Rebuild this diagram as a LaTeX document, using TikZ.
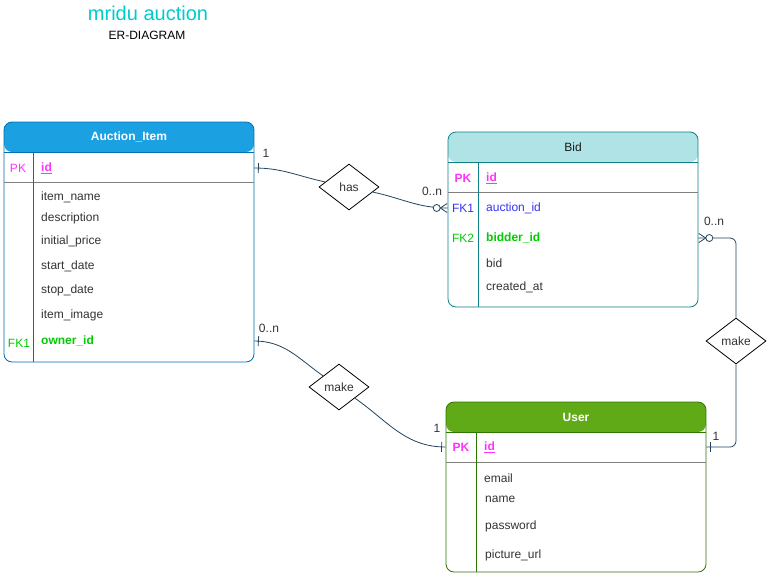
\documentclass[tikz,border=0pt]{standalone}
\usepackage{fontspec}
\setmainfont{Liberation Sans}
\usetikzlibrary{shapes.geometric,decorations.markings}

\definecolor{titlecyan}{HTML}{00CCCC}
\definecolor{itemfill}{HTML}{1BA1E2}
\definecolor{itemline}{HTML}{006EAF}
\definecolor{bidfill}{HTML}{B0E3E6}
\definecolor{bidline}{HTML}{0E8088}
\definecolor{userfill}{HTML}{60A917}
\definecolor{userline}{HTML}{2D7600}
\definecolor{pkcol}{HTML}{FF33FF}
\definecolor{fkgreen}{HTML}{00CC00}
\definecolor{fkblue}{HTML}{3333FF}
\definecolor{edgecol}{HTML}{23445D}
\definecolor{txt}{HTML}{333333}

\tikzset{
  entity/.style args={#1/#2}{draw=#2, fill=white, line width=0.8pt, rounded corners=8pt, inner sep=0pt,
    path picture={\fill[#1] (path picture bounding box.north west) rectangle ([yshift=-30pt]path picture bounding box.north east);
      \draw[#2, line width=0.8pt] ([yshift=-30pt]path picture bounding box.north west) -- ([yshift=-30pt]path picture bounding box.north east);}},
  field/.style={anchor=west, inner sep=0pt, text=txt},
  keycol/.style={inner sep=0pt},
  pkey/.style={anchor=west, inner sep=0pt, text=pkcol, font=\fontsize{12}{14}\selectfont\bfseries},
  relation/.style={diamond, draw=black, fill=white, line width=0.8pt, minimum width=60pt, minimum height=46pt, inner sep=0pt, aspect=1.3, text=txt},
  edge/.style={draw=edgecol, line width=0.8pt},
  oneend/.style={postaction=decorate, decoration={markings, mark=at position -4pt with {\draw[edgecol, line width=0.8pt] (0pt,-5pt) -- (0pt,5pt);}}},
  manyend/.style={postaction=decorate, decoration={markings, mark=at position -0.4pt with {
    \draw[edgecol, line width=0.8pt] (-7pt,0pt) -- (0pt,4.5pt) (-7pt,0pt) -- (0pt,-4.5pt);
    \draw[edgecol, line width=0.8pt, fill=white] (-10.5pt,0pt) circle (3.5pt);}}},
  lbl/.style={inner sep=0pt, text=txt}
}

\begin{document}
\begin{tikzpicture}[x=1pt, y=-1pt, every node/.style={font=\fontsize{12}{14}\selectfont}]
\useasboundingbox (0,0) rectangle (767,573);

\node[text=titlecyan, font=\fontsize{20}{24}\selectfont] (title) at (148,13) {mridu auction};
\node[text=black] (subtitle) at (147,35) {ER-DIAGRAM};

% Auction_Item
\node[entity=itemfill/itemline, minimum width=250pt, minimum height=240pt] (item) at (129,242) {};
\node[text=white, font=\fontsize{12}{14}\selectfont\bfseries] (itemhead) at (129,137) {Auction\_Item};
\draw[gray, line width=0.8pt] (4,182) -- (254,182);
\draw[itemline, line width=0.8pt] (33,152) -- (33,362);
\node[keycol, text=pkcol] (itempk) at (18,168) {PK};
\node[pkey] (itemid) at (41,168) {\underline{id}};
\node[field] (itemname) at (41,197) {item\_name};
\node[field] (itemdesc) at (41,218) {description};
\node[field] (itemprice) at (41,241) {initial\_price};
\node[field] (itemstart) at (41,266) {start\_date};
\node[field] (itemstop) at (41,290) {stop\_date};
\node[field] (itemimage) at (41,315) {item\_image};
\node[keycol, text=fkgreen] (itemfk) at (19,343) {FK1};
\node[field, text=fkgreen, font=\fontsize{12}{14}\selectfont\bfseries] (itemowner) at (41,341) {owner\_id};

% Bid
\node[entity=bidfill/bidline, minimum width=250pt, minimum height=175pt] (bid) at (573,219.5) {};
\node[text=black!90] (bidhead) at (573,147) {Bid};
\draw[gray, line width=0.8pt] (448,192) -- (698,192);
\draw[bidline, line width=0.8pt] (478,162) -- (478,307);
\node[keycol, text=pkcol, font=\fontsize{12}{14}\selectfont\bfseries] (bidpk) at (463,178) {PK};
\node[pkey] (bidid) at (486,178) {\underline{id}};
\node[keycol, text=fkblue] (bidfka) at (463,208) {FK1};
\node[field, text=fkblue] (bidauction) at (486,208) {auction\_id};
\node[keycol, text=fkgreen] (bidfkb) at (463,238) {FK2};
\node[field, text=fkgreen, font=\fontsize{12}{14}\selectfont\bfseries] (bidbidder) at (486,238) {bidder\_id};
\node[field] (bidbid) at (486,263) {bid};
\node[field] (bidcreated) at (486,287) {created\_at};

% User
\node[entity=userfill/userline, minimum width=260pt, minimum height=170pt] (user) at (576,487) {};
\node[text=white, font=\fontsize{12}{14}\selectfont\bfseries] (userhead) at (576,417) {User};
\draw[gray, line width=0.8pt] (446,462) -- (706,462);
\draw[userline, line width=0.8pt] (476,432) -- (476,572);
\node[keycol, text=pkcol, font=\fontsize{12}{14}\selectfont\bfseries] (userpk) at (461,447) {PK};
\node[pkey] (userid) at (484,447) {\underline{id}};
\node[field] (useremail) at (484,478) {email};
\node[field] (username) at (485,499) {name};
\node[field] (userpass) at (485,526) {password};
\node[field] (userpic) at (485,555) {picture\_url};

% relations
\node[relation] (has) at (349,187) {has};
\node[relation] (makeitem) at (339,387) {make};
\node[relation] (makebid) at (736,341) {make};

\draw[edge, oneend] (has) to[out=168, in=0] (item.east |- itemid);
\draw[edge, manyend] (has) to[out=-12, in=180] (bid.west |- bidauction);
\draw[edge, oneend] (makeitem) to[out=145, in=0] (item.east |- itemowner);
\draw[edge, oneend] (makeitem) to[out=-35, in=180] (user.west |- userid);
\draw[edge, manyend, rounded corners=6pt] (makebid) |- (bid.east |- bidbidder);
\draw[edge, oneend, rounded corners=6pt] (makebid) |- (user.east |- userid);

\node[lbl] (hasone) at (266,153) {1};
\node[lbl] (hasmany) at (432,191) {0..n};
\node[lbl] (makemany) at (269,328) {0..n};
\node[lbl] (makeone) at (437,428) {1};
\node[lbl] (bidmany) at (714,221) {0..n};
\node[lbl] (bidone) at (716,436) {1};
\end{tikzpicture}
\end{document}
